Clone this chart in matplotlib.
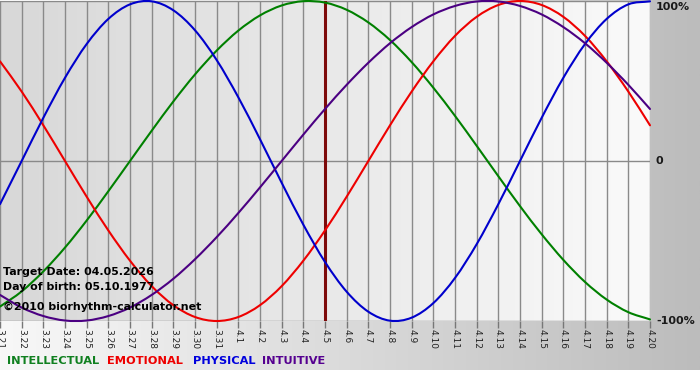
import numpy as np
import matplotlib
matplotlib.use("Agg")
import matplotlib.pyplot as plt
from matplotlib.colors import LinearSegmentedColormap
from matplotlib.path import Path
from matplotlib.patches import PathPatch

dates = ['3.21', '3.22', '3.23', '3.24', '3.25', '3.26', '3.27', '3.28', '3.29', '3.30', '3.31',
         '4.1', '4.2', '4.3', '4.4', '4.5', '4.6', '4.7', '4.8', '4.9', '4.10',
         '4.11', '4.12', '4.13', '4.14', '4.15', '4.16', '4.17', '4.18', '4.19', '4.20']

physical = [-27.0, 0.0, 27.0, 52.0, 73.1, 88.8, 97.9, 99.8, 94.2, 81.7, 63.1, 39.8, 13.6,
            -13.6, -39.8, -63.1, -81.7, -94.2, -99.8, -97.9, -88.8, -73.1, -52.0, -27.0,
            0.0, 27.0, 52.0, 73.1, 88.8, 97.9, 99.8]
emotional = [62.3, 43.4, 22.3, 0.0, -22.3, -43.4, -62.3, -78.2, -90.1, -97.5, -100.0, -97.5,
             -90.1, -78.2, -62.3, -43.4, -22.3, 0.0, 22.3, 43.4, 62.3, 78.2, 90.1, 97.5,
             100.0, 97.5, 90.1, 78.2, 62.3, 43.4, 22.3]
intellectual = [-91.0, -81.5, -69.0, -54.1, -37.2, -18.9, 0.0, 18.9, 37.2, 54.1, 69.0, 81.5,
                91.0, 97.2, 99.9, 99.0, 94.5, 86.6, 75.6, 61.8, 45.8, 28.2, 9.5, -9.5,
                -28.2, -45.8, -61.8, -75.6, -86.6, -94.5, -99.0]
intuitive = [-83.7, -91.6, -96.9, -99.7, -99.7, -96.9, -91.6, -83.7, -73.6, -61.4, -47.6,
             -32.5, -16.5, 0.0, 16.5, 32.5, 47.6, 61.4, 73.6, 83.7, 91.6, 96.9, 99.7, 99.7,
             96.9, 91.6, 83.7, 73.6, 61.4, 47.6, 32.5]

target_label = '4.5'
right_labels = [(100, '100%'), (0, '0'), (-100, '-100%')]
info_lines = ['Target Date: 04.05.2026', 'Day of birth: 05.10.1977', '\u00a92010 biorhythm-calculator.net']
legend_names = ['INTELLECTUAL', 'EMOTIONAL', 'PHYSICAL', 'INTUITIVE']

W, H = 700, 380
fig = plt.figure(figsize=(7, 3.8), dpi=100, facecolor='white')

def fx(px):
    return px / W

def fy(py):
    return 1 - py / H

# background gradient (whole chart area)
bg = fig.add_axes([0, 0, 1, 1], zorder=-5)
bg.set_xlim(0, W)
bg.set_ylim(H, 0)
bg.axis('off')
cm_bg = LinearSegmentedColormap.from_list('bg', ['#f8f8f8', '#bcbcbc'])
bg.imshow(np.linspace(0, 1, 256)[None, :], extent=(0, W, 370, 0), aspect='auto', cmap=cm_bg)

# main plot axes
x0, x1, ytop, ybot = 0, 650, 1, 321
ax = fig.add_axes([fx(x0), fy(ybot), (x1 - x0) / W, (ybot - ytop) / H])
ax.patch.set_alpha(0)
x = np.arange(len(dates))
ax.set_xlim(0, len(dates) - 1)
ax.set_ylim(-100, 100)
cm_plot = LinearSegmentedColormap.from_list('pl', ['#d8d8d8', '#fafafa'])
ax.imshow(np.linspace(0, 1, 256)[None, :], extent=(0, len(dates) - 1, -100, 100),
          aspect='auto', cmap=cm_plot, zorder=0)

for s in ax.spines.values():
    s.set_visible(False)

ax.vlines(x, -100, 100, color='#8a8a8a', lw=1, zorder=1)
for yv in (-100, 0, 100):
    ax.axhline(yv, color='#8a8a8a', lw=1, zorder=1)

ax.axvline(dates.index(target_label), color='#7d0a0a', lw=2.2, zorder=2)


def smooth_line(axis, xs, ys, color):
    """Draw a smooth curve through the data points (Catmull-Rom as cubic Bezier)."""
    p = np.column_stack([xs, ys]).astype(float)
    ext = np.vstack([2 * p[0] - p[1], p, 2 * p[-1] - p[-2]])
    verts = [tuple(p[0])]
    codes = [Path.MOVETO]
    for i in range(1, len(ext) - 2):
        a, b, c, d = ext[i - 1], ext[i], ext[i + 1], ext[i + 2]
        c1 = b + (c - a) / 6.0
        c2 = c - (d - b) / 6.0
        verts += [tuple(c1), tuple(c2), tuple(c)]
        codes += [Path.CURVE4] * 3
    patch = PathPatch(Path(verts, codes), facecolor='none', edgecolor=color,
                      lw=1.5, zorder=3, clip_on=False, capstyle='round', joinstyle='round')
    axis.add_patch(patch)


smooth_line(ax, x, intellectual, '#008000')
smooth_line(ax, x, emotional, '#ee0000')
smooth_line(ax, x, physical, '#0000cc')
smooth_line(ax, x, intuitive, '#4b0082')

ax.set_xticks(x)
ax.set_xticklabels(dates, rotation=-90, fontsize=6.5, color='#222222')
ax.tick_params(axis='x', length=5, width=1, color='#777777', pad=1)
ax.set_yticks([])

right_y = [7, 161, 321]
for yy, (yv, lab) in zip(right_y, right_labels):
    fig.text(fx(656), fy(yy), lab, ha='left', va='center', fontsize=8,
             fontweight='bold', color='#1a1a1a')

info_y = [272, 287, 307]
for yy, t in zip(info_y, info_lines):
    fig.text(fx(3), fy(yy), t, ha='left', va='center', fontsize=7.9,
             fontweight='bold', color='black', zorder=10)

legend_x = [7, 107, 193, 262]
legend_colors = ['#108020', '#ee0000', '#0000dd', '#550090']
for lx, name, c in zip(legend_x, legend_names, legend_colors):
    fig.text(fx(lx), fy(361.5), name, ha='left', va='center', fontsize=8.2,
             fontweight='bold', color=c)

fig.savefig('out.png', dpi=100, facecolor='white')
